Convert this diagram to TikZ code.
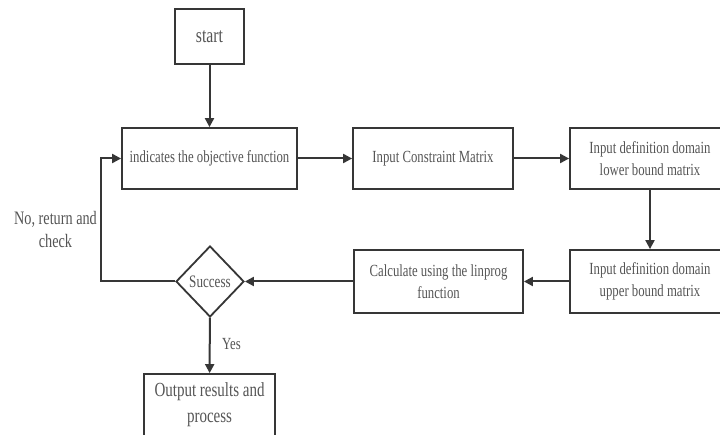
\documentclass[tikz,border=0pt]{standalone}
\usepackage{fontspec}
\setmainfont{Liberation Serif}[FakeStretch=0.75]
\usetikzlibrary{shapes.geometric,arrows.meta}
\definecolor{linec}{HTML}{363636}
\definecolor{textc}{HTML}{555555}
\begin{document}
\begin{tikzpicture}[x=1pt,y=-1pt,
  box/.style={draw=linec,line width=1.8pt,fill=white,text=textc,align=center,inner sep=1pt,font=\fontsize{17}{22}\selectfont},
  dec/.style={draw=linec,line width=1.8pt,fill=white,diamond,text=textc,inner sep=0pt,font=\fontsize{17.5}{20}\selectfont},
  arr/.style={draw=linec,line width=2pt,-{Triangle[length=9pt,width=9pt]}},
  lbl/.style={text=textc,align=center,font=\fontsize{17}{22}\selectfont}]
\clip (0,0) rectangle (720,435);
\fill[white] (0,0) rectangle (720,435);
\node[box,minimum width=69pt,minimum height=55pt,font=\fontsize{21}{24}\selectfont] (start) at (209.5,36.5) {start};
\node[box,minimum width=175pt,minimum height=61pt] (obj) at (209.5,158.5) {indicates the objective function};
\node[box,minimum width=160pt,minimum height=61pt] (cons) at (433,158.5) {Input Constraint Matrix};
\node[box,minimum width=160pt,minimum height=61pt] (lower) at (650,158.5) {Input definition domain\\lower bound matrix};
\node[box,minimum width=160pt,minimum height=63pt] (upper) at (650,281.5) {Input definition domain\\upper bound matrix};
\node[box,minimum width=169pt,minimum height=63pt] (calc) at (438.5,281.5) {Calculate using the linprog\\function};
\node[dec,minimum width=68pt,minimum height=71pt] (succ) at (210,281.5) {Success};
\node[box,minimum width=131pt,minimum height=62pt,font=\fontsize{20}{26}\selectfont] (out) at (209.5,405) {Output results and\\process};
\coordinate (bend1) at (100.5,281.5);
\coordinate (bend2) at (100.5,158.5);
\draw[arr] (start) -- (obj);
\draw[arr] (obj) -- (cons);
\draw[arr] (cons) -- (lower);
\draw[arr] (lower.south -| 650,0) -- (upper.north -| 650,0);
\draw[arr] (upper) -- (calc);
\draw[arr] (calc) -- (succ);
\draw[arr] (succ) -- (out);
\node[lbl] (yes) at (231.5,344) {Yes};
\draw[arr] (succ.west) -- (bend1) -- (bend2) -- (obj.west);
\node[lbl,font=\fontsize{19}{23}\selectfont] (no) at (55.5,229.5) {No, return and\\check};
\end{tikzpicture}
\end{document}
